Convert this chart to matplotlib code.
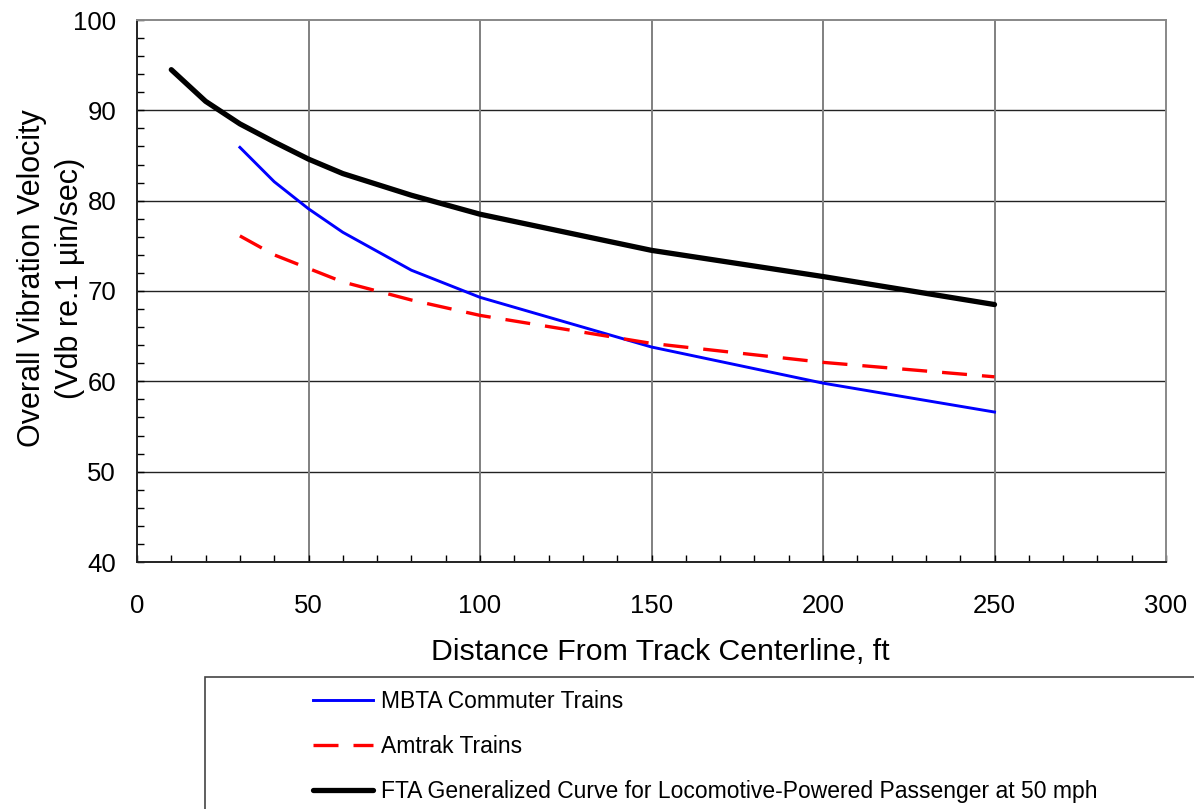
import numpy as np
import matplotlib
matplotlib.use("Agg")
import matplotlib.pyplot as plt
from matplotlib.patches import Rectangle
from matplotlib.ticker import MultipleLocator

plt.rcParams['font.family'] = ['Liberation Sans', 'DejaVu Sans']

# dados
dist_fta = [10, 20, 30, 40, 50, 60, 80, 100, 150, 200, 250]
vdb_fta = [94.5, 91.0, 88.5, 86.5, 84.6, 83.0, 80.6, 78.5, 74.5, 71.6, 68.5]

dist_trens = [30, 40, 50, 60, 80, 100, 150, 200, 250]
vdb_mbta = [85.9, 82.1, 79.1, 76.5, 72.3, 69.3, 63.8, 59.8, 56.6]
vdb_amtrak = [76.1, 74.0, 72.5, 71.0, 69.0, 67.3, 64.2, 62.1, 60.5]

rotulos = ['MBTA Commuter Trains', 'Amtrak Trains',
           'FTA Generalized Curve for Locomotive-Powered Passenger at 50 mph']

fig = plt.figure(figsize=(11.94, 8.09), dpi=100)
ax = fig.add_axes([137/1194, 1-562/809, (1166-137)/1194, (562-20)/809])

l1, = ax.plot(dist_trens, vdb_mbta, color='#0000ff', lw=2.1, zorder=4)
l2, = ax.plot(dist_trens, vdb_amtrak, color='#ff0000', lw=2.4, dashes=(7.5, 4.5), zorder=4)
l3, = ax.plot(dist_fta, vdb_fta, color='black', lw=3.8, solid_capstyle='round', zorder=5)

ax.set_xlim(0, 300)
ax.set_ylim(40, 100)
ax.xaxis.set_major_locator(MultipleLocator(50))
ax.xaxis.set_minor_locator(MultipleLocator(10))
ax.yaxis.set_major_locator(MultipleLocator(10))
ax.yaxis.set_minor_locator(MultipleLocator(2))
ax.tick_params(which='both', direction='in', length=5, width=1, labelsize=18.5)
ax.tick_params(axis='x', pad=23)
ax.tick_params(axis='y', pad=15)

for y in range(50, 100, 10):
    ax.axhline(y, color='#222222', lw=1, zorder=1)
for x in range(50, 300, 50):
    ax.axvline(x, color='#808080', lw=1.4, zorder=1)

ax.spines['left'].set_color('#222222')
ax.spines['bottom'].set_color('#222222')
ax.spines['top'].set_color('#888888')
ax.spines['right'].set_color('#888888')
for s in ax.spines.values():
    s.set_linewidth(1.4)

ax.set_xlabel('Distance From Track Centerline, ft', fontsize=21.8, va='center')
ax.xaxis.set_label_coords(0.509, -0.166)
ax.set_ylabel('Overall Vibration Velocity\n(Vdb re.1 \u00b5in/sec)', fontsize=22,
              linespacing=1.35, va='center')
ax.yaxis.set_label_coords(-0.0835, 0.524)

# caixa da legenda (sai da figura)
fig.patches.append(Rectangle((205/1194, -0.1), 1.0, 0.1 + 1-677/809,
                             transform=fig.transFigure, fill=False,
                             edgecolor='#444444', lw=1.2))

fig.legend([l1, l2, l3], rotulos, loc='upper left',
           bbox_to_anchor=(313/1194, 1-690/809), frameon=False, fontsize=16.5,
           handlelength=2.6, handletextpad=0.35, labelspacing=0.97,
           borderpad=0, borderaxespad=0)

fig.savefig('out.png', dpi=100)
